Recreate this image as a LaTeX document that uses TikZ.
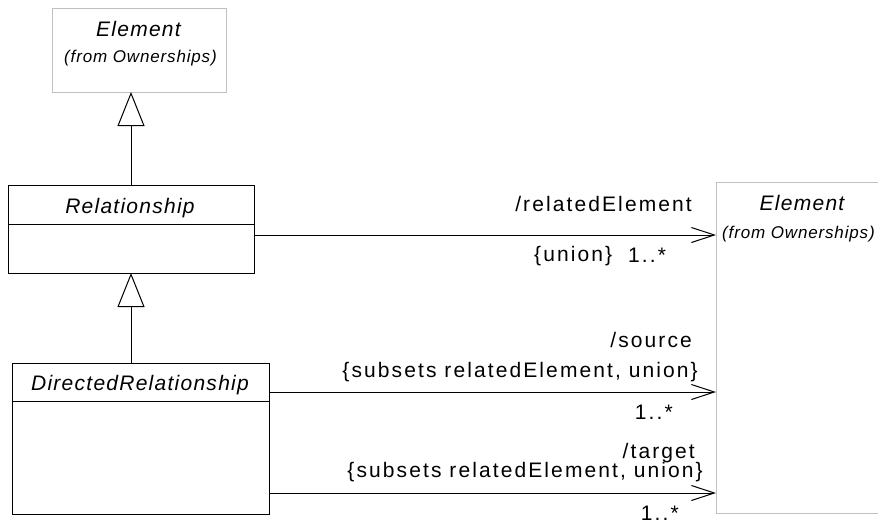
\documentclass[tikz,border=0pt]{standalone}
\usepackage{fontspec}
\setmainfont{Liberation Sans}
\newfontfamily\lblfont[LetterSpace=10]{Liberation Sans}
\newfontfamily\itfont[LetterSpace=6]{Liberation Sans Italic}
\newfontfamily\smlfont[LetterSpace=5]{Liberation Sans Italic}
\usetikzlibrary{arrows.meta}
\definecolor{boxgray}{RGB}{192,192,192}
\tikzset{
  cls/.style={draw=black, line width=1pt, inner sep=0pt, outer sep=0pt, anchor=north west, fill=white},
  ext/.style={draw=boxgray, line width=1pt, inner sep=0pt, outer sep=0pt, anchor=north west, fill=white},
  lbl/.style={inner sep=0pt, font=\lblfont\fontsize{21}{24}\selectfont},
  ital/.style={inner sep=0pt, font=\itfont\fontsize{21}{24}\selectfont},
  subl/.style={inner sep=0pt, font=\smlfont\fontsize{17}{20}\selectfont},
  divider/.style={line width=1pt},
  gen/.style={line width=1pt, -{Triangle[open, length=34pt, width=27pt, fill=white]}},
  assoc/.style={line width=1pt, -{Straight Barb[length=23pt, width=15pt]}},
}
\begin{document}
\begin{tikzpicture}[x=1pt,y=-1pt]
\useasboundingbox (0,0) rectangle (878,525);
\clip (0,0) rectangle (878,525);

% top Element (from Ownerships)
\node[ext, minimum width=174pt, minimum height=84pt] (elemtop) at (52,8) {};
\node[ital, anchor=base] (elemtopname) at (138.5,36) {Element};
\node[subl, anchor=base] (elemtopfrom) at (140.5,62) {(from Ownerships)};

% Relationship
\node[cls, minimum width=246pt, minimum height=88pt] (rel) at (8,185) {};
\draw[divider] (rel.west |- 0,224) -- (rel.east |- 0,224);
\node[ital, anchor=base] (relname) at (130,213) {Relationship};

% DirectedRelationship
\node[cls, minimum width=257pt, minimum height=151pt] (dir) at (12,363) {};
\draw[divider] (dir.west |- 0,401) -- (dir.east |- 0,401);
\node[ital, anchor=base] (dirname) at (140,390) {DirectedRelationship};

% right Element (from Ownerships)
\node[ext, minimum width=174pt, minimum height=331pt] (elemright) at (716,182) {};
\node[ital, anchor=base] (elemrightname) at (802,210) {Element};
\begin{scope}
\clip (716,182) rectangle (874,300);
\node[subl, anchor=base west] (elemrightfrom) at (722,238) {(from Ownerships)};
\end{scope}

% generalizations
\draw[gen] (rel.north) -- (rel.north |- elemtop.south);
\draw[gen] (dir.north -| rel.south) -- (rel.south);

% associations
\draw[assoc] (rel.east |- 0,235) -- (elemright.west |- 0,235);
\draw[assoc] (dir.east |- 0,392) -- (elemright.west |- 0,392);
\draw[assoc] (dir.east |- 0,493) -- (elemright.west |- 0,493);

% association labels
\node[lbl, anchor=base east] (relatedlbl) at (692,211) {/relatedElement};
\node[lbl, anchor=base west] (unionlbl) at (534,261) {\{union\}};
\node[lbl, anchor=base west] (multrel) at (628,262) {1..*};

\node[lbl, anchor=base east] (sourcelbl) at (692,347) {/source};
\node[lbl, anchor=base east] (sourcecons) at (698,377) {\{subsets relatedElement, union\}};
\node[lbl, anchor=base east] (multsrc) at (673,419) {1..*};

\node[lbl, anchor=base east] (targetlbl) at (695,458) {/target};
\node[lbl, anchor=base east] (targetcons) at (703,477) {\{subsets relatedElement, union\}};
\node[lbl, anchor=base east] (multtgt) at (679,520) {1..*};
\end{tikzpicture}
\end{document}
